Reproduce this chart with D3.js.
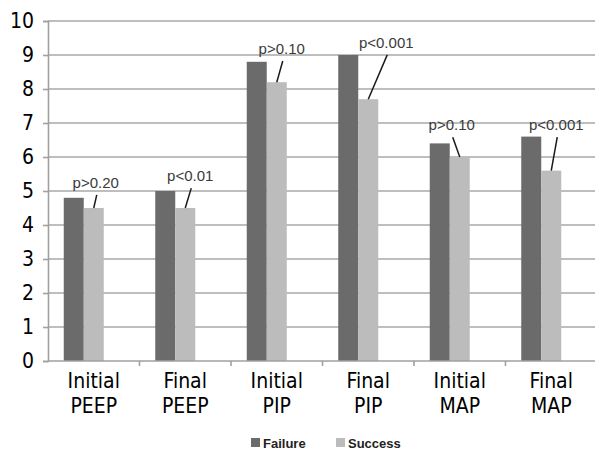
<!DOCTYPE html>
<html>
<head>
<meta charset="utf-8">
<script src="https://cdn.jsdelivr.net/npm/d3@7"></script>
<style>
  body { margin: 0; background: #fff; }
  svg { display: block; }
</style>
</head>
<body>
<figure id="chart" style="margin:0"></figure>
<script>
// data
const categories = ["Initial PEEP", "Final PEEP", "Initial PIP", "Final PIP", "Initial MAP", "Final MAP"];
const categoryLines = [["Initial", "PEEP"], ["Final", "PEEP"], ["Initial", "PIP"], ["Final", "PIP"], ["Initial", "MAP"], ["Final", "MAP"]];
const series = ["Failure", "Success"];
const failure = [4.8, 5.0, 8.8, 9.0, 6.4, 6.6];
const success = [4.5, 4.5, 8.2, 7.7, 6.0, 5.6];
const yTicks = [0, 1, 2, 3, 4, 5, 6, 7, 8, 9, 10];
const pValues = ["p>0.20", "p<0.01", "p>0.10", "p<0.001", "p>0.10", "p<0.001"];
// where each p label sits (value units) and how far it is pushed sideways (px)
const pLabelY = [5.09, 5.29, 9.03, 9.21, 6.79, 6.79];
const pLabelDx = [2, 5, 5, 18, -8, 5];

const colors = { Failure: "#6b6b6b", Success: "#bcbcbc" };
const condensed = "'Liberation Sans Narrow', 'DejaVu Sans Condensed', 'Liberation Sans', sans-serif";

const width = 595, height = 450;
const margin = { top: 21, right: 0, bottom: 89, left: 48 };
const plotRight = 597;

const svg = d3.select("figure#chart")
  .append("svg")
  .attr("width", width)
  .attr("height", height);

const x = d3.scaleBand()
  .domain(categories)
  .range([margin.left, plotRight]);

// bars sit a little to the left of the category centre, like the original
const xSeries = d3.scaleBand()
  .domain(series)
  .range([-30, 10]);

const y = d3.scaleLinear()
  .domain([0, 10])
  .range([height - margin.bottom, margin.top]);

const center = c => x(c) + x.bandwidth() / 2;

// gridlines
svg.append("g")
  .selectAll("line")
  .data(yTicks.filter(d => d > 0))
  .enter()
  .append("line")
  .attr("x1", margin.left)
  .attr("x2", plotRight)
  .attr("y1", d => y(d))
  .attr("y2", d => y(d))
  .attr("stroke", "#a9a9a9")
  .attr("stroke-width", 1.6);

// bars
const rows = categories.map((c, i) => ({ cat: c, Failure: failure[i], Success: success[i] }));

svg.append("g")
  .selectAll("g")
  .data(rows)
  .enter()
  .append("g")
  .selectAll("rect")
  .data(d => series.map(s => ({ cat: d.cat, key: s, value: d[s] })))
  .enter()
  .append("rect")
  .attr("x", d => center(d.cat) + xSeries(d.key))
  .attr("width", xSeries.bandwidth())
  .attr("y", d => y(d.value))
  .attr("height", d => y(0) - y(d.value))
  .attr("fill", d => colors[d.key]);

// y axis
const yAxis = svg.append("g")
  .attr("transform", "translate(" + margin.left + ",0)")
  .call(d3.axisLeft(y).tickValues(yTicks).tickSize(5).tickPadding(9));
yAxis.select(".domain").attr("stroke", "#a0a0a0").attr("stroke-width", 1.6);
yAxis.selectAll(".tick line").attr("stroke", "#a0a0a0").attr("stroke-width", 1.6);
yAxis.selectAll(".tick text")
  .attr("fill", "#000")
  .style("font-family", condensed)
  .style("font-size", "21px");

// x axis line and ticks at category edges
const xg = svg.append("g");
xg.append("line")
  .attr("x1", margin.left)
  .attr("x2", plotRight)
  .attr("y1", y(0))
  .attr("y2", y(0))
  .attr("stroke", "#a0a0a0")
  .attr("stroke-width", 1.6);
xg.selectAll(".xtick")
  .data(categories.slice(1))
  .enter()
  .append("line")
  .attr("class", "xtick")
  .attr("x1", d => x(d))
  .attr("x2", d => x(d))
  .attr("y1", y(0))
  .attr("y2", y(0) + 5)
  .attr("stroke", "#a0a0a0")
  .attr("stroke-width", 1.6);

// category labels, two lines each
svg.append("g")
  .selectAll("text")
  .data(categories.flatMap((c, i) => categoryLines[i].map((t, j) => ({ cat: c, text: t, line: j }))))
  .enter()
  .append("text")
  .attr("x", d => center(d.cat))
  .attr("y", d => y(0) + 27 + d.line * 25)
  .attr("text-anchor", "middle")
  .style("font-family", condensed)
  .style("font-size", "21px")
  .attr("fill", "#000")
  .text(d => d.text);

// p value labels with leader lines to the success bar
const notes = svg.append("g")
  .selectAll("g")
  .data(categories.map((c, i) => ({ cat: c, text: pValues[i], ly: pLabelY[i], dx: pLabelDx[i], value: success[i] })))
  .enter()
  .append("g");

notes.append("text")
  .attr("x", d => center(d.cat) + d.dx)
  .attr("y", d => y(d.ly))
  .attr("text-anchor", "middle")
  .style("font-family", "'Liberation Sans', Arial, sans-serif")
  .style("font-size", "15px")
  .attr("fill", "#3a3a3a")
  .text(d => d.text);

notes.append("line")
  .attr("x1", d => center(d.cat) + d.dx + 1)
  .attr("y1", d => y(d.ly) + 7)
  .attr("x2", d => center(d.cat))
  .attr("y2", d => y(d.value))
  .attr("stroke", "#1a1a1a")
  .attr("stroke-width", 1.5);

// legend
const legend = svg.append("g")
  .selectAll("g")
  .data(series)
  .enter()
  .append("g")
  .attr("transform", (d, i) => "translate(" + (251 + i * 85) + ",438)");

legend.append("rect")
  .attr("width", 9)
  .attr("height", 9)
  .attr("fill", d => colors[d]);

legend.append("text")
  .attr("x", 12)
  .attr("y", 9.5)
  .style("font-family", "'Liberation Sans', Arial, sans-serif")
  .style("font-size", "13px")
  .style("font-weight", "bold")
  .attr("fill", "#222")
  .text(d => d);
</script>
</body>
</html>
